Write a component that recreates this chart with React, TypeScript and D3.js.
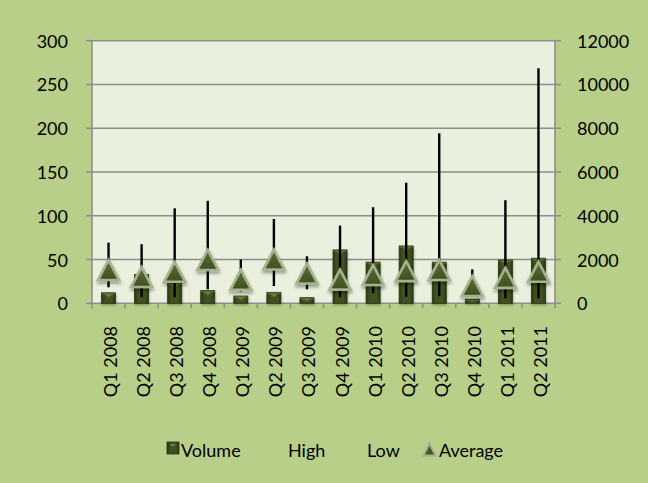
import React from "react";
import * as d3 from "d3";

// Quarterly stock figures: volume on the left axis, price range on the right
const categories = [
  "Q1 2008", "Q2 2008", "Q3 2008", "Q4 2008", "Q1 2009", "Q2 2009", "Q3 2009",
  "Q4 2009", "Q1 2010", "Q2 2010", "Q3 2010", "Q4 2010", "Q1 2011", "Q2 2011",
];
const volume = [12, 33, 23, 14.5, 8.3, 12.5, 6.4, 61, 47, 65.5, 47, 4.6, 49.5, 51.5];
const high = [2770, 2700, 4340, 4680, 2000, 3850, 2150, 3550, 4390, 5510, 7770, 1550, 4710, 10740];
const low = [730, 280, 280, 640, 530, 790, 640, 280, 460, 300, 330, 500, 230, 230];
const average = [1520, 1200, 1440, 1980, 1070, 2000, 1360, 1080, 1290, 1470, 1520, 790, 1160, 1440];

const leftTicks = [0, 50, 100, 150, 200, 250, 300];
const rightTicks = [0, 2000, 4000, 6000, 8000, 10000, 12000];

const W = 648;
const H = 483;
const plot = { left: 92, right: 555, top: 40.7, bottom: 303.3 };
const FONT = "Lato, 'Open Sans', sans-serif";

const x = d3.scaleBand<string>().domain(categories).range([plot.left, plot.right]);
const yL = d3.scaleLinear().domain([0, 300]).range([plot.bottom, plot.top]);
const yR = d3.scaleLinear().domain([0, 12000]).range([plot.bottom, plot.top]);

const BAR_W = 14;
const TRI_W = 21;
const TRI_H = 20;

// upward triangle, centred on its bounding box
function trianglePath(cx: number, cy: number, w: number, h: number) {
  const p = d3.path();
  p.moveTo(cx, cy - h / 2);
  p.lineTo(cx + w / 2, cy + h / 2);
  p.lineTo(cx - w / 2, cy + h / 2);
  p.closePath();
  return p.toString();
}

// downward triangle, used for the bevel highlight on the bars
function downTrianglePath(cx: number, cy: number, w: number, h: number) {
  const p = d3.path();
  p.moveTo(cx - w / 2, cy - h / 2);
  p.lineTo(cx + w / 2, cy - h / 2);
  p.lineTo(cx, cy + h / 2);
  p.closePath();
  return p.toString();
}

function VolumeBar({ cx, top, bottom, w }: { cx: number; top: number; bottom: number; w: number }) {
  const h = Math.max(bottom - top, 0);
  const bevel = Math.min(4, h / 2);
  return (
    <g filter="url(#barShadow)">
      <rect x={cx - w / 2} y={top} width={w} height={h} fill="url(#barGrad)" stroke="#2a3411" strokeWidth={0.8} />
      <path d={downTrianglePath(cx, top + bevel / 2 + 0.8, w - 5, bevel)} fill="#6f8148" opacity={0.85} />
      <rect x={cx - w / 2 + 0.5} y={top + 0.4} width={w - 1} height={Math.min(1.2, h)} fill="#5f7038" />
    </g>
  );
}

function AvgMarker({ cx, cy, w, h }: { cx: number; cy: number; w: number; h: number }) {
  return (
    <g filter="url(#triShadow)">
      <path d={trianglePath(cx, cy, w, h)} fill="url(#triGrad)" stroke="#a4b28f" strokeWidth={2.6} strokeLinejoin="miter" />
    </g>
  );
}

export default function App() {
  const bw = x.bandwidth();
  const legendY = 450;
  return (
    <div style={{ position: "fixed", left: 0, top: 0, width: W, height: H }}>
      <svg width={W} height={H} style={{ display: "block" }} fontFamily={FONT}>
        <defs>
          <linearGradient id="barGrad" x1="0" x2="1" y1="0" y2="0">
            <stop offset="0" stopColor="#2c3812" />
            <stop offset="0.25" stopColor="#3f5120" />
            <stop offset="0.75" stopColor="#3f5120" />
            <stop offset="1" stopColor="#2c3812" />
          </linearGradient>
          <linearGradient id="triGrad" x1="0" x2="0" y1="0" y2="1">
            <stop offset="0" stopColor="#5d6f35" />
            <stop offset="1" stopColor="#3f4f1f" />
          </linearGradient>
          <filter id="triShadow" x="-50%" y="-50%" width="200%" height="200%">
            <feDropShadow dx="0.5" dy="2.5" stdDeviation="1.8" floodColor="#000" floodOpacity="0.35" />
          </filter>
          <filter id="barShadow" x="-50%" y="-50%" width="200%" height="200%">
            <feDropShadow dx="0.5" dy="1.5" stdDeviation="1.2" floodColor="#000" floodOpacity="0.3" />
          </filter>
        </defs>

        {/* chart and plot backgrounds */}
        <rect x={0} y={0} width={W} height={H} fill="#b7cf89" />
        <rect x={plot.left} y={plot.top} width={plot.right - plot.left} height={plot.bottom - plot.top} fill="#e9f0dd" />

        {/* gridlines */}
        {leftTicks.map((t) => (
          <line key={"g" + t} x1={plot.left} x2={plot.right} y1={yL(t)} y2={yL(t)} stroke="#8e8e8e" strokeWidth={1.6} />
        ))}

        {/* axis lines and ticks */}
        <line x1={plot.left} x2={plot.left} y1={plot.top} y2={plot.bottom} stroke="#8e8e8e" strokeWidth={1.6} />
        <line x1={plot.right} x2={plot.right} y1={plot.top} y2={plot.bottom} stroke="#8e8e8e" strokeWidth={1.6} />
        {leftTicks.map((t) => (
          <line key={"lt" + t} x1={plot.left - 6} x2={plot.left} y1={yL(t)} y2={yL(t)} stroke="#8e8e8e" strokeWidth={1.6} />
        ))}
        {rightTicks.map((t) => (
          <line key={"rt" + t} x1={plot.right} x2={plot.right + 6} y1={yR(t)} y2={yR(t)} stroke="#8e8e8e" strokeWidth={1.6} />
        ))}
        {categories.map((c) => (
          <line key={"bt" + c} x1={x(c)!} x2={x(c)!} y1={plot.bottom} y2={plot.bottom + 5} stroke="#8e8e8e" strokeWidth={1.6} />
        ))}
        <line x1={plot.right} x2={plot.right} y1={plot.bottom} y2={plot.bottom + 5} stroke="#8e8e8e" strokeWidth={1.6} />

        {/* tick labels */}
        {leftTicks.map((t) => (
          <text key={"ll" + t} x={68} y={yL(t)} textAnchor="end" dominantBaseline="central" fontSize={18} fill="#000">
            {t}
          </text>
        ))}
        {rightTicks.map((t) => (
          <text key={"rl" + t} x={577} y={yR(t)} textAnchor="start" dominantBaseline="central" fontSize={18} fill="#000">
            {t}
          </text>
        ))}
        {categories.map((c) => {
          const cx = x(c)! + bw / 2 + 1.5;
          const ty = 326;
          return (
            <text
              key={"xl" + c}
              x={cx}
              y={ty}
              transform={`rotate(-90 ${cx} ${ty})`}
              textAnchor="end"
              dominantBaseline="central"
              fontSize={18}
              fill="#000"
            >
              {c}
            </text>
          );
        })}

        {/* volume bars */}
        {categories.map((c, i) => (
          <VolumeBar key={"v" + c} cx={x(c)! + bw / 2} top={yL(volume[i])} bottom={yL(0)} w={BAR_W} />
        ))}

        {/* high-low lines */}
        {categories.map((c, i) => (
          <line
            key={"hl" + c}
            x1={x(c)! + bw / 2}
            x2={x(c)! + bw / 2}
            y1={yR(high[i])}
            y2={yR(low[i])}
            stroke="#000"
            strokeWidth={2.4}
          />
        ))}

        {/* average markers */}
        {categories.map((c, i) => (
          <AvgMarker key={"a" + c} cx={x(c)! + bw / 2} cy={yR(average[i])} w={TRI_W} h={TRI_H} />
        ))}

        {/* legend */}
        <g fontSize={18} fill="#000">
          <rect x={167} y={442} width={12} height={12} fill="url(#barGrad)" stroke="#2a3411" strokeWidth={0.8} />
          <path d={downTrianglePath(173, 445.5, 6, 3)} fill="#6f8148" />
          <text x={181} y={legendY} dominantBaseline="central">Volume</text>
          <text x={288} y={legendY} dominantBaseline="central">High</text>
          <text x={367} y={legendY} dominantBaseline="central">Low</text>
          <path d={trianglePath(429.5, 449.5, 12, 12)} fill="url(#triGrad)" stroke="#a4b28f" strokeWidth={1.8} />
          <text x={439} y={legendY} dominantBaseline="central">Average</text>
        </g>
      </svg>
    </div>
  );
}
